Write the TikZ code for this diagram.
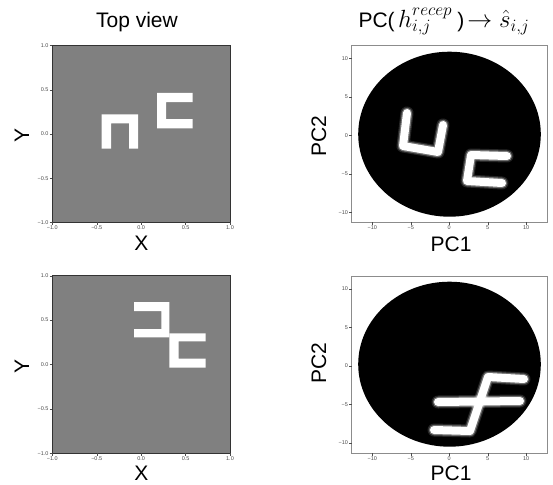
\documentclass[tikz,border=0pt]{standalone}
\usepackage{fontspec}
\setmainfont{Liberation Sans}
\usetikzlibrary{positioning}

\tikzset{
  ticklbl/.style={inner sep=0.6pt, font=\fontsize{5.5}{6}\selectfont, text=black!70},
  axlbl/.style={inner sep=0pt, font=\fontsize{21}{24}\selectfont},
  ttl/.style={inner sep=0pt, anchor=base, font=\fontsize{21}{24}\selectfont},
  tickmark/.style={draw=black!70, line width=0.4pt},
  blurline/.style={
    preaction={draw=white, opacity=0.15, line width=13pt, line join=round, line cap=round},
    preaction={draw=white, opacity=0.35, line width=10.5pt, line join=round, line cap=round},
    draw=white, line width=8pt, line join=round, line cap=round},
}

\begin{document}
\begin{tikzpicture}[x=1pt, y=-1pt]
    \useasboundingbox (0,0) rectangle (553,484);

    % Titles
    \node[ttl] (T_top) at (137,27.5) {Top view};
    \node[ttl] (T_pc) at (444,27.5) {PC(\,{\fontsize{24.5}{28}\selectfont$h^{recep}_{i,j}$}\hspace{5pt})\hspace{3pt}%
        {\fontsize{24.5}{28}\selectfont$\rightarrow\hat{s}_{i,j}$}};

    % Top view, first scene
    \fill[gray] (52.3,45.7) rectangle (230,222.3);
    \fill[white] (101.7,148.7) -- (101.7,114.3) -- (138,114.3) -- (138,148.7) -- (129,148.7)
        -- (129,123.3) -- (111,123.3) -- (111,148.7) -- cycle;
    \fill[white] (192.7,93) -- (157,93) -- (157,128.3) -- (192.7,128.3) -- (192.7,119)
        -- (166,119) -- (166,102) -- (192.7,102) -- cycle;
    \draw[black!80, line width=0.6pt] (52.3,45.7) rectangle (230,222.3);
    \foreach \v/\p [count=\k] in {−1.0/52.3, −0.5/96.7, 0.0/141.2, 0.5/185.6, 1.0/230} {
        \draw[tickmark] (\p,222.3) -- (\p,225);
        \node[ticklbl, anchor=north] (ax_x\k) at (\p,225.3) {\v};
    }
    \foreach \v/\p [count=\k] in {1.0/45.7, 0.5/89.9, 0.0/134, −0.5/178.2, −1.0/222.3} {
        \draw[tickmark] (49.6,\p) -- (52.3,\p);
        \node[ticklbl, anchor=east] (ax_y\k) at (49.3,\p) {\v};
    }
    \node[axlbl] (L_x) at (141.5,243.5) {X};
    \node[axlbl, rotate=90] (L_y) at (22,135.5) {Y};

    % Top view, second scene
    \fill[gray] (52.3,275.7) rectangle (230,453.3);
    \fill[white] (134,302) -- (169.3,302) -- (169.3,337.3) -- (134,337.3) -- (134,329)
        -- (161.3,329) -- (161.3,311) -- (134,311) -- cycle;
    \fill[white] (205.7,333.3) -- (169.3,333.3) -- (169.3,367.7) -- (205.7,367.7) -- (205.7,358.7)
        -- (178.7,358.7) -- (178.7,341.3) -- (205.7,341.3) -- cycle;
    \draw[black!80, line width=0.6pt] (52.3,275.7) rectangle (230,453.3);
    \foreach \v/\p [count=\k] in {−1.0/52.3, −0.5/96.7, 0.0/141.2, 0.5/185.6, 1.0/230} {
        \draw[tickmark] (\p,453.3) -- (\p,456);
        \node[ticklbl, anchor=north] (bx_x\k) at (\p,456.3) {\v};
    }
    \foreach \v/\p [count=\k] in {1.0/275.7, 0.5/320, 0.0/364.5, −0.5/408.9, −1.0/453.3} {
        \draw[tickmark] (49.6,\p) -- (52.3,\p);
        \node[ticklbl, anchor=east] (bx_y\k) at (49.3,\p) {\v};
    }
    \node[axlbl] (L_x2) at (141.5,473.5) {X};
    \node[axlbl, rotate=90] (L_y2) at (22,366.5) {Y};

    % PC projection, first scene
    \fill[black] (449.5,134.2) ellipse [x radius=91.3, y radius=82.5];
    \draw[blurline] (407,113) -- (403,146) -- (438,152) -- (443,125);
    \draw[blurline] (507,156) -- (471,155) -- (467,181) -- (502,183);
    \draw[black!45, line width=0.8pt] (351.7,45.7) rectangle (547.7,222.3);
    \foreach \v/\p [count=\k] in {−10/372.2, −5/410.7, 0/449.2, 5/487.7, 10/526.2} {
        \draw[tickmark] (\p,222.3) -- (\p,225);
        \node[ticklbl, anchor=north] (px_x\k) at (\p,225.3) {\v};
    }
    \foreach \v/\p [count=\k] in {10/58.3, 5/96.8, 0/135.3, −5/173.8, −10/212.3} {
        \draw[tickmark] (349,\p) -- (351.7,\p);
        \node[ticklbl, anchor=east] (px_y\k) at (348.7,\p) {\v};
    }
    \node[axlbl] (L_pc1) at (451,244.5) {PC1};
    \node[axlbl, rotate=90] (L_pc2) at (319,136) {PC2};

    % PC projection, second scene
    \fill[black] (449.5,364.2) ellipse [x radius=91.3, y radius=82.5];
    \draw[blurline] (524,379) -- (488,377) -- (470,431) -- (434,430);
    \draw[blurline] (438,402) -- (520,401);
    \draw[black!45, line width=0.8pt] (351.7,276) rectangle (547.7,453.3);
    \foreach \v/\p [count=\k] in {−10/372.2, −5/410.7, 0/449.2, 5/487.7, 10/526.2} {
        \draw[tickmark] (\p,453.3) -- (\p,456);
        \node[ticklbl, anchor=north] (qx_x\k) at (\p,456.3) {\v};
    }
    \foreach \v/\p [count=\k] in {10/289, 5/327.5, 0/366, −5/404.5, −10/443} {
        \draw[tickmark] (349,\p) -- (351.7,\p);
        \node[ticklbl, anchor=east] (qx_y\k) at (348.7,\p) {\v};
    }
    \node[axlbl] (L_pc1b) at (451,473.5) {PC1};
    \node[axlbl, rotate=90] (L_pc2b) at (319,363) {PC2};
\end{tikzpicture}
\end{document}
